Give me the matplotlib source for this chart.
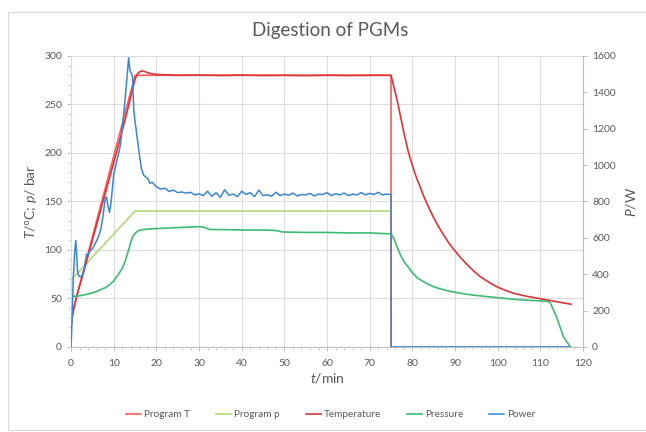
import matplotlib
matplotlib.use('Agg')
import matplotlib.pyplot as plt
from matplotlib.patches import Rectangle
from matplotlib.ticker import MultipleLocator

plt.rcParams['font.family'] = ['Lato', 'DejaVu Sans']
plt.rcParams['mathtext.fontset'] = 'custom'
plt.rcParams['mathtext.rm'] = 'Lato'
plt.rcParams['mathtext.it'] = 'Lato:italic'

# Program set points
prog_T_time = [0, 15, 75, 75]
prog_T = [30, 280, 280, 0]
prog_p_time = [0, 15, 75]
prog_p = [69, 140, 140]

# Measured temperature (°C)
temp_time = [0, 0.3, 0.7, 1.3, 2, 3, 4, 5, 6, 7, 7.6, 8, 9, 10, 11, 12, 13, 14, 14.5, 15,
             15.5, 16, 16.6, 17.2, 18, 19, 20, 22, 25, 30, 35, 40, 45, 50, 55, 60, 65, 70, 75,
             75.5, 76, 76.6, 77.3, 78.1, 79, 80, 81, 82, 82.6, 83.7, 84.9, 86, 87.3, 88.5, 89.8,
             91.3, 92.8, 94.3, 95.9, 97.8, 99.8, 101.7, 103.7, 106.7, 109.8, 112.3, 114.7, 117.2]
temp = [20, 31, 40, 52, 63, 78, 94, 110, 126, 142, 152, 158, 174, 190, 206, 223, 240, 258, 267, 276,
        281, 283.5, 284.5, 284, 282.5, 281.5, 281, 280.5, 280, 280.3, 279.8, 280.2, 279.8, 280, 279.7, 280.1, 279.8, 280, 280,
        271, 262, 251, 236, 219, 202, 187, 174, 163, 156, 145, 134, 125, 115.5, 107.5, 100,
        92, 85, 78.5, 72.5, 67, 62, 58.5, 55.3, 52.3, 49.8, 47.8, 45.9, 44]

# Measured pressure (bar)
pres_time = [0, 2, 4, 6, 6.8, 8, 9, 10, 10.7, 11, 12, 12.5, 13, 13.5, 14, 14.5, 15, 15.5, 16.2, 17,
             18, 20, 25, 30, 31, 32.5, 35, 40, 45, 48, 49.5, 55, 60, 65, 70, 75,
             75.4, 75.8, 76.5, 77.4, 78.1, 78.9, 80, 81.2, 82.6, 83.7, 84.9, 86, 87.3, 88.5, 89.8,
             92.8, 95.9, 99.8, 105.3, 111.5, 112.3, 113.8, 115.4, 117]
pres = [52, 52.6, 54.5, 57, 58.8, 61, 64, 68, 72.5, 74, 81, 86, 93, 100, 108, 114, 117, 119, 120.6, 121,
        121.5, 122, 123, 124, 123.5, 121, 121, 120.5, 120.5, 120, 118.5, 118, 118, 117.5, 117.5, 116.5,
        114, 110, 102, 93, 87.5, 83, 76.5, 71, 67.3, 64.5, 62.2, 60.5, 59, 57.6, 56.4,
        54.2, 52.6, 50.8, 48.5, 47.1, 45.6, 31, 10.6, 0]

# Microwave power (W)
power_time = [0, 0.1, 0.3, 0.5, 0.8, 1.1, 1.3, 1.5, 1.8, 2.2, 2.7, 3.1, 3.6, 4.0, 4.5, 5.0, 5.5, 6.0,
              6.5, 7.0, 7.5, 8.0, 8.3, 8.6, 9.0, 9.4, 10.0, 10.5, 11.0, 11.5, 12.0, 12.5, 13.0, 13.5,
              13.8, 14.1, 14.4, 14.7, 15.0, 15.5, 16.0, 16.5, 17.0, 17.5, 18.0, 18.5, 19.0,
              20, 21, 22, 23, 24, 25, 26, 27, 28, 29, 30, 31, 32, 33, 34, 35, 36, 37, 38, 39,
              40, 41, 42, 43, 44, 45, 46, 47, 48, 49, 50, 51, 52, 53, 54, 55, 56, 57, 58, 59,
              60, 61, 62, 63, 64, 65, 66, 67, 68, 69, 70, 71, 72, 73, 74, 75, 75.05, 117]
power = [0, 60, 200, 370, 500, 585, 520, 420, 390, 385, 395, 430, 510, 505, 530, 540, 560, 585,
         610, 650, 720, 815, 825, 780, 740, 800, 950, 1000, 1050, 1100, 1200, 1320, 1450, 1590,
         1520, 1505, 1490, 1300, 1240, 1150, 1060, 980, 945, 935, 925, 900, 905,
         880, 868, 872, 855, 862, 848, 852, 845, 850, 836, 842, 832, 856, 828, 848, 822, 864, 834, 840, 826,
         856, 838, 848, 826, 862, 832, 836, 828, 850, 832, 840, 834, 846, 830, 838, 836, 844, 830, 840, 838,
         848, 832, 842, 836, 846, 832, 840, 836, 848, 836, 844, 838, 850, 836, 840, 838, 0, 0]

grey = '#595959'

fig = plt.figure(figsize=(6.46, 4.32), dpi=100)
ax = fig.add_axes([0.110, 0.197, 0.7925, 0.6736])
ax2 = ax.twinx()

l1, = ax.plot(prog_T_time, prog_T, color='#ff5b5b', lw=1.2, label='Program T')
l2, = ax.plot(prog_p_time, prog_p, color='#b3d87a', lw=1.2, label='Program p')
l3, = ax.plot(temp_time, temp, color='#d9363b', lw=1.2, label='Temperature')
l4, = ax.plot(pres_time, pres, color='#3dbb72', lw=1.2, label='Pressure')
l5, = ax2.plot(power_time, power, color='#3a86cf', lw=1.1, label='Power')

ax.set_xlim(0, 120)
ax.set_ylim(0, 300)
ax2.set_ylim(0, 1600)
ax.xaxis.set_major_locator(MultipleLocator(10))
ax.xaxis.set_minor_locator(MultipleLocator(2))
ax.yaxis.set_major_locator(MultipleLocator(50))
ax.yaxis.set_minor_locator(MultipleLocator(10))
ax2.yaxis.set_major_locator(MultipleLocator(200))

ax.grid(True, color='#dcdcdc', lw=0.8)
ax.set_axisbelow(True)

for a in (ax, ax2):
    a.spines['top'].set_visible(False)
    a.tick_params(colors=grey, labelsize=7.5, length=3, width=0.7)
    a.tick_params(which='minor', length=2, width=0.5, colors='#bfbfbf')
ax.tick_params(axis='both', color='#bfbfbf')
ax.tick_params(axis='x', pad=6)
ax2.tick_params(axis='y', color='#bfbfbf')
ax.spines['left'].set_color('#d9d9d9')
ax.spines['bottom'].set_color('#bfbfbf')
ax.spines['right'].set_visible(False)
ax2.spines['left'].set_visible(False)
ax2.spines['bottom'].set_visible(False)
ax2.spines['right'].set_color('#bfbfbf')

ax.set_xlabel('$t$/min', fontsize=10, color=grey, labelpad=2)
ax.set_ylabel('$T$/°C; $p$/ bar', fontsize=10, color=grey, labelpad=4)
ax2.set_ylabel('$P$/W', fontsize=10, color=grey, labelpad=6)

fig.text(0.511, 0.93, 'Digestion of PGMs', ha='center', va='center', fontsize=13.5, color=grey)

leg = fig.legend([l1, l2, l3, l4, l5], ['Program T', 'Program p', 'Temperature', 'Pressure', 'Power'],
                 loc='center', bbox_to_anchor=(0.512, 0.04), ncol=5, frameon=False, fontsize=7.2,
                 handlelength=1.5, handletextpad=0.3, columnspacing=2.6)
for t in leg.get_texts():
    t.set_color(grey)

# light chart border
fig.patches.append(Rectangle((8 / 646, 2 / 432), 1.0, 418 / 432, transform=fig.transFigure,
                             fill=False, edgecolor='#d9d9d9', lw=0.8))

fig.savefig('out.png', dpi=100)
